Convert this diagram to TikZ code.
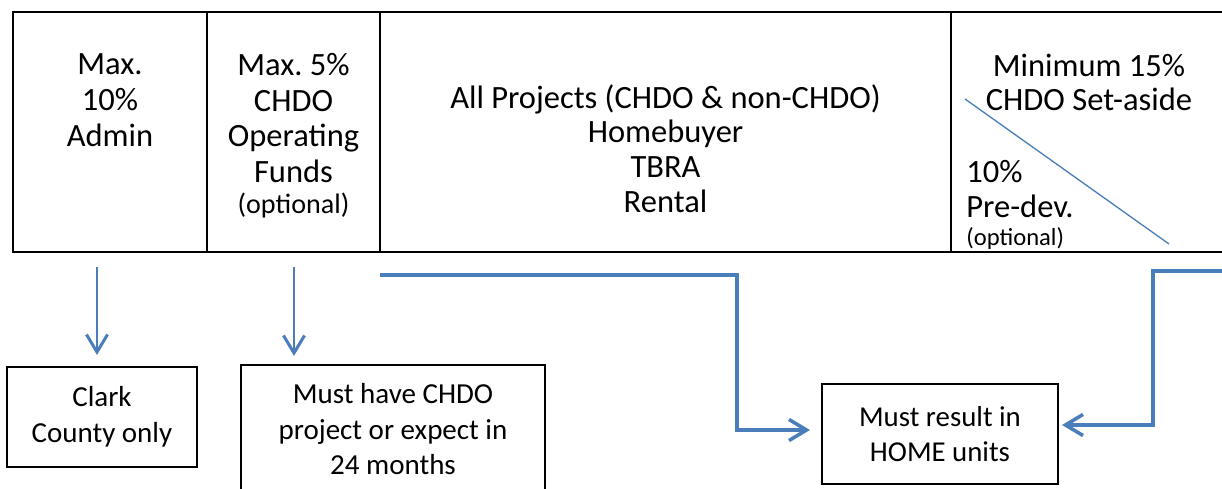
\documentclass[tikz,border=0pt]{standalone}
\usepackage{fontspec}
\setmainfont{Carlito}
\usepackage{tikz}
\usetikzlibrary{arrows.meta}
\usetikzlibrary{calc}
\usetikzlibrary{positioning}
\definecolor{fundblue}{RGB}{74,126,187}
\frenchspacing

\begin{document}
\begin{tikzpicture}[x=0.02cm,y=-0.02cm,
    >={Straight Barb[length=10pt,width=12pt]},
    cell/.style={draw, line width=1.2pt, inner sep=0pt, minimum height=4.8cm},
    headtext/.style={align=center, inner sep=0pt, font=\fontsize{18.5}{20.4}\selectfont},
    note/.style={inner sep=0pt, font=\fontsize{16}{18}\selectfont},
    rulebox/.style={draw, line width=1.2pt, align=center, inner sep=0pt, font=\fontsize{16.5}{20.2}\selectfont},
    drop/.style={->, draw=fundblue, line width=1.7pt},
    link/.style={->, draw=fundblue, line width=2pt}]
  \useasboundingbox (0,0) rectangle (1222,489);

  % top row of the budget table
  \node[cell, minimum width=3.88cm] (admin) at (110,132) {};
  \node[cell, minimum width=3.46cm] (opfunds) at (293.5,132) {};
  \node[cell, minimum width=11.42cm] (projects) at (665.5,132) {};
  \node[cell, minimum width=5.78cm] (setaside) at (1095.5,132) {};

  \node[headtext] (admintxt) at (110,100) {Max.\\10\%\\Admin};
  \node[headtext, font=\fontsize{18.5}{20.2}\selectfont] (optxt) at (293.5,118) {Max. 5\%\\CHDO\\Operating\\Funds};
  \node[note, anchor=base] (opnote) at (293.5,214) {(optional)};
  \node[headtext, font=\fontsize{18.5}{19.8}\selectfont] (projtxt) at (665.5,148.5) {All Projects (CHDO \& non-CHDO)\\Homebuyer\\TBRA\\Rental};
  \node[headtext, font=\fontsize{18.5}{19.3}\selectfont] (settxt) at (1089,82.5) {Minimum 15\%\\CHDO Set-aside};
  \node[headtext, align=left, anchor=west] (predev) at (966,189) {10\%\\Pre-dev.};
  \node[note, anchor=base west, font=\fontsize{14}{16}\selectfont] (prenote) at (966,246) {(optional)};
  \draw[fundblue, line width=0.75pt] (965,99) -- (1169,244);

  % rules below
  \node[rulebox, minimum width=3.8cm, minimum height=2cm] (clark) at (102,417) {Clark\\County only};
  \node[rulebox, minimum width=6.08cm, minimum height=2.58cm] (mustchdo) at (393,429.5) {Must have CHDO\\project or expect in\\24 months};
  \node[rulebox, minimum width=4.72cm, minimum height=2cm, font=\fontsize{16.4}{19.8}\selectfont] (home) at (940,434) {Must result in\\HOME units};

  \coordinate (a1) at (97,267);
  \coordinate (a2) at (294,267);
  \draw[drop, shorten >=0.22cm] (a1) -- (a1 |- clark.north);
  \draw[drop, shorten >=0.16cm] (a2) -- (a2 |- mustchdo.north);

  \coordinate (p1) at (380,275);
  \coordinate (k1) at (737,430);
  \draw[link, shorten >=0.22cm] (p1) -| (k1) -- (k1 -| home.west);

  \coordinate (p2) at (1240,271);
  \coordinate (k2) at (1153,425);
  \draw[link, shorten >=0.06cm] (p2) -| (k2) -- (k2 -| home.east);
\end{tikzpicture}
\end{document}
